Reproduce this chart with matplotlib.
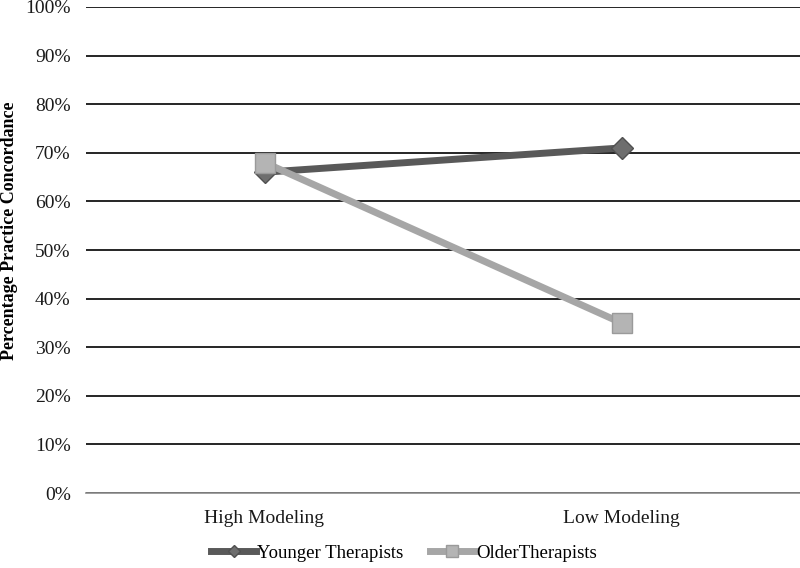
import matplotlib.pyplot as plt
from matplotlib.ticker import FuncFormatter

categories = ["High Modeling", "Low Modeling"]
younger = [66, 71]
older = [68, 35]
yticks = list(range(0, 101, 10))

plt.rcParams["font.family"] = ["Liberation Serif", "DejaVu Serif"]

fig = plt.figure(figsize=(8, 5.68), dpi=100)
ax = fig.add_axes([0.1075, 0.132, 0.8925, 0.8557])

x = range(len(categories))
ax.plot(x, younger, color="#595959", lw=5, marker="D", ms=11,
        mfc="#6e6e6e", mec="#505050", mew=1, label="Younger Therapists", zorder=3)
ax.plot(x, older, color="#a6a6a6", lw=5, marker="s", ms=15,
        mfc="#b4b4b4", mec="#9a9a9a", mew=1, label="OlderTherapists", zorder=3)

ax.set_xlim(-0.5, 1.5)
ax.set_ylim(0, 100)
ax.set_yticks(yticks)
ax.yaxis.set_major_formatter(FuncFormatter(lambda v, p: f"{int(v)}%"))
ax.set_xticks(list(x))
ax.set_xticklabels(categories)
ax.tick_params(length=0, labelsize=14, colors="#1a1a1a")
ax.tick_params(axis="x", pad=12)
ax.tick_params(axis="y", pad=11)
ax.grid(axis="y", color="black", lw=1.2, zorder=0)
for s in ["top", "right", "left"]:
    ax.spines[s].set_visible(False)
ax.spines["bottom"].set_color("#8c8c8c")
ax.spines["bottom"].set_linewidth(1.2)
ax.set_axisbelow(True)

ax.set_ylabel("Percentage Practice Concordance", fontsize=13, fontweight="bold")
ax.yaxis.set_label_coords(-0.095, 0.54)

leg = fig.legend(loc="center", bbox_to_anchor=(0.505, 0.026), ncol=2, frameon=False,
                 fontsize=13.5, handlelength=2.4, handletextpad=0.05, columnspacing=1.4,
                 markerscale=0.6)
for ln in leg.get_lines():
    ln.set_linewidth(5)

fig.savefig("out.png", dpi=100)
